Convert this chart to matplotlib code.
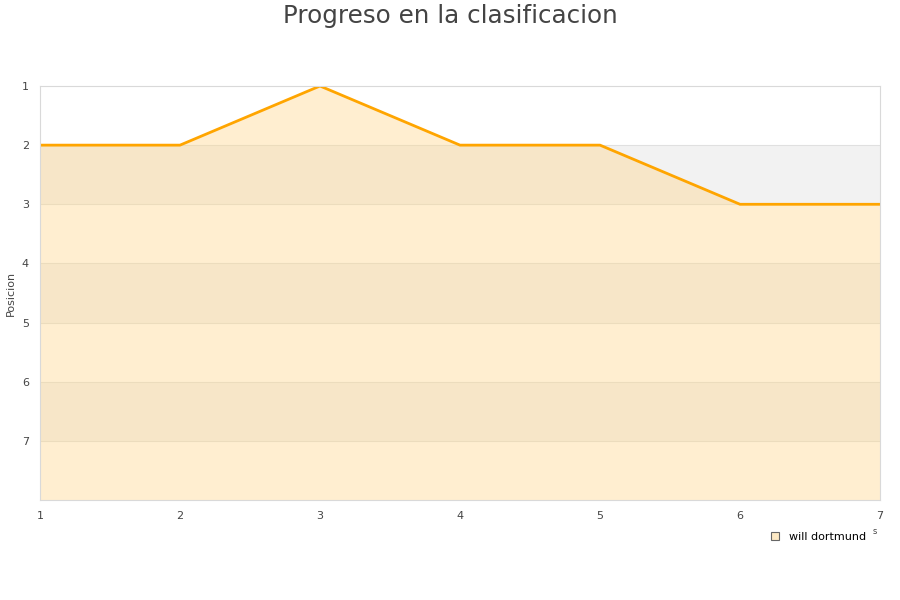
import matplotlib
matplotlib.use("Agg")
import matplotlib.pyplot as plt
from matplotlib.lines import Line2D

jornadas = [1, 2, 3, 4, 5, 6, 7]
posiciones = [2, 2, 1, 2, 2, 3, 3]
team = "will dortmund"
title = "Progreso en la clasificacion"
ylabel = "Posicion"
y_ticks = [1, 2, 3, 4, 5, 6, 7]

plt.rcParams['font.family'] = ['DejaVu Sans']
fig = plt.figure(figsize=(9, 6), dpi=100)
ax = fig.add_axes([40/900, 1-500/600, 840/900, 414/600])

ax.set_xlim(1, 7)
ax.set_ylim(8, 1)

# alternating bands
for k in range(1, 8):
    if k % 2 == 0:
        ax.axhspan(k, k+1, color='#f2f2f2', zorder=0, lw=0)
for k in range(2, 8):
    ax.axhline(k, color='#e0e0e0', lw=0.8, zorder=0.5)

ax.fill_between(jornadas, posiciones, 8, color='#ffd68a', alpha=0.4, lw=0, zorder=1)
ax.plot(jornadas, posiciones, color='#ffa500', lw=2.0, zorder=2)

ax.set_xticks(jornadas)
ax.set_yticks(y_ticks)
ax.tick_params(length=0, labelsize=8, labelcolor='#444444', pad=8)
for s in ax.spines.values():
    s.set_color('#d9d9d9')
    s.set_linewidth(0.8)
ax.set_ylabel(ylabel, fontsize=8, color='#444444', labelpad=4)

fig.text(0.5, 1-16/600, title, ha='center', va='center', fontsize=17.7, color='#444444')

handle = Line2D([], [], marker='s', linestyle='none', markersize=6,
                markerfacecolor='#fde9c4', markeredgecolor='#666666', markeredgewidth=0.8)
fig.legend([handle], [team], loc='center', bbox_to_anchor=(815/900, 1-537/600),
           frameon=False, fontsize=8, handletextpad=0.3, borderaxespad=0)
fig.text(875/900, 1-531/600, "s", fontsize=6, color='#444444', ha='center', va='center')

fig.savefig('out.png', dpi=100)
